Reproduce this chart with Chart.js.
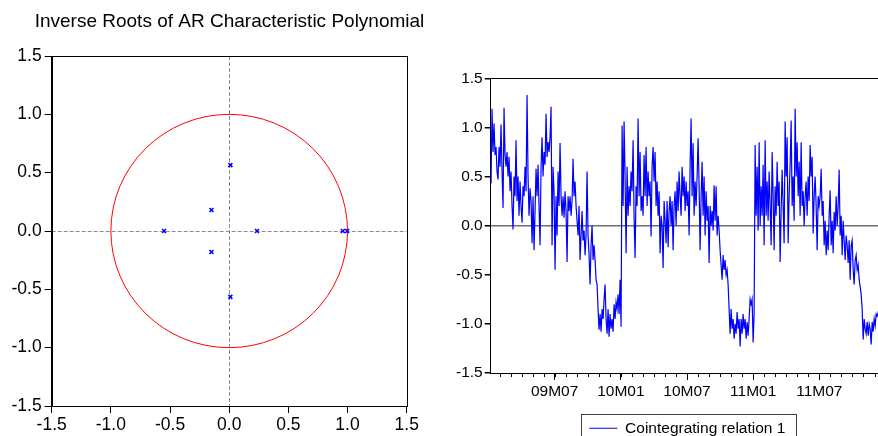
<!DOCTYPE html>
<html>
<head>
<meta charset="utf-8">
<script src="https://cdn.jsdelivr.net/npm/chart.js@4.4.1/dist/chart.umd.min.js"></script>
<style>
  html, body { margin: 0; padding: 0; background: #fff; overflow: hidden; }
  #wrap { position: relative; width: 878px; height: 436px; overflow: hidden; }
  #roots { position: absolute; left: 0; top: 0; }
  #coint { position: absolute; left: 440px; top: 0; }
</style>
</head>
<body>
<div id="wrap">
  <canvas id="roots" width="459" height="450"></canvas>
  <canvas id="coint" width="446" height="446"></canvas>
</div>
<script>
// inverse roots (real / imaginary parts)
const rootRe = [0.01, -0.15, -0.55, 0.235, 0.96, 0.997, -0.15, 0.01];
const rootIm = [0.565, 0.18, 0, 0, 0, 0, -0.18, -0.565];
const rootTicks = [-1.5, -1.0, -0.5, 0.0, 0.5, 1.0, 1.5];

// cointegrating relation, observations spaced evenly, x in months since 2009M01
const obsStart = 0.23;
const obsStep = 0.0907;
const cointValues = [
  0.43, 1.19, 0.75, 1.04, 0.72, 0.8, 0.55, 0.47, 0.8, 0.6,
  1.03, 0.55, 0.18, 1.2, 0.72, 0.6, 0.75, 0.5, 0.7, 0.35,
  0.55, 0.2, -0.04, 0.5, 0.3, 0.87, 0.25, 0.5, 0.1, 0.45,
  0.2, 0.03, 0.4, 0.3, 0.6, 0.35, 1.33, 0.5, 0.1, 0.38,
  0.25, -0.18, 0.3, -0.25, 0.15, 0.58, 0.3, 0.62, 0.2, -0.2,
  0.6, 0.9, 0.5, 0.75, 0.62, 1.14, 0.7, 0.85, 0.75, 0.9,
  1.21, -0.2, 0.6, 0.35, -0.45, 0.3,
  -0.1, 0.55, 0.2, 0.84, 0.3, 0.1, 0.3, 0.08, 0.35, 0.15,
  -0.37, 0.3, 0.15, 0.3, 0.1, 0.25, 0.68, 0.3, 0.45, 0.2,
  0.05, -0.1, 0.2, -0.35, -0.1, 0.15, -0.15, -0.05, -0.3, -0.1,
  0.55, -0.1, -0.3, -0.6, -0.2, 0.0, -0.35, -0.2, -0.35, -0.55,
  -0.6, -0.85, -1.06, -0.9, -1.08, -0.85, -0.95, -0.75, -0.6, -0.95,
  -1.1, -0.85, -1.13, -0.9, -1.05, -0.95, -1.08, -0.8, -0.95, -0.78,
  -0.85, -0.7, -0.9, -0.55, -1.03,
  1.02, 0.2, 1.06, 0.5, -0.28, 0.6, 0.1, 0.4, 0.2, 0.55,
  0.35, 0.87, 0.1, -0.33, 0.4, 0.2, 1.09, 0.3, 0.75, 0.15,
  0.3, 0.1, 0.72, 0.3, 0.8, 0.2, 0.55, 0.3, 0.45, -0.11,
  0.6, 0.8, 0.45, 0.75, 0.2, 0.45, 0.1, 0.35, -0.28, 0.1,
  0.0, -0.43, 0.25, 0.05, -0.18, 0.25, -0.22, 0.15, 0.3, 0.0,
  0.25, -0.25, 0.2, 0.35, 0.0, 0.45, 0.15, 0.55, 0.3, 0.1,
  0.6, 0.3, 0.5, 0.15, 0.45, 0.2,
  0.35, -0.1, 0.6, 1.09, 0.3, 0.84, 0.1, 0.45, 0.2, 0.5,
  0.89, 0.4, -0.25, 0.3, 0.65, 0.1, 0.5, -0.1, 0.35, 0.05,
  0.2, -0.38, 0.2, 0.0, 0.15, -0.05, 0.41, 0.05, 0.4, -0.1,
  0.1, -0.05, -0.25, -0.4, -0.55, -0.3, -0.45, -0.35, -0.5, -0.45,
  -0.6, -0.85, -1.1, -0.85, -1.05, -0.95, -1.15, -1.0, -1.1, -0.88,
  -1.05, -0.95, -1.23, -0.95, -1.1, -0.9, -1.05, -0.95, -1.15, -0.98,
  -1.12, -0.95, -0.75, -0.8, -0.75, -1.19,
  -0.9, 0.82, 0.1, 0.6, -0.05, 0.85, 0.0, 0.4, 0.1, 0.62,
  -0.2, 0.87, 0.1, 0.45, 0.05, 0.55, 0.2, -0.2, 0.75, 0.3,
  -0.25, 0.4, 0.1, 0.65, 0.2, 0.45, -0.37, 0.15, 0.57, 0.2,
  -0.18, 1.06, 0.5, 0.9, -0.18, 0.3, 0.62, 1.07, 0.2, 0.5,
  0.05, 1.19, 0.5, 0.85, 0.3, 0.65, 0.1, 0.85, 0.2, 0.35,
  0.0, 0.3, 0.45, 0.1, 0.5, 0.25, 0.82, 0.5, 0.7, -0.08,
  0.3, 0.5, 0.2, -0.25, 0.3, 0.2,
  0.3, 0.58, 0.1, 0.25, -0.2, 0.05, -0.3, -0.05, -0.25, 0.1,
  0.36, -0.2, 0.05, -0.28, 0.14, -0.05, 0.3, 0.0, 0.2, 0.57,
  -0.1, 0.1, -0.3, 0.05, -0.15, -0.35, -0.1, -0.2, -0.38, -0.15,
  -0.55, -0.2, -0.15, -0.45, -0.6, -0.35, -0.3, -0.45, -0.4, -0.55,
  -0.62, -0.7, -0.85, -1.16, -0.95, -1.05, -1.1, -0.98, -1.12, -1.0,
  -1.05, -1.21, -0.98, -1.08, -0.95, -1.02, -0.9, -0.92, -0.88, -0.9
];
const cointTicks = [-1.5, -1.0, -0.5, 0.0, 0.5, 1.0, 1.5];
const monthTicks = [6, 12, 18, 24, 30];
const monthLabels = ['09M07', '10M01', '10M07', '11M01', '11M07'];
const minorMonths = [1, 2, 3, 4, 5, 6, 7, 8, 9, 10, 11, 12, 13, 14, 15, 16, 17, 18,
  19, 20, 21, 22, 23, 24, 25, 26, 27, 28, 29, 30, 31, 32, 33, 34, 35];

const FONT = '"Liberation Sans", Arial, Helvetica, sans-serif';

// unit circle, zero lines and frame on the roots plot
const rootsDecor = {
  id: 'rootsDecor',
  beforeDatasetsDraw(chart) {
    const {ctx, chartArea: a, scales: {x, y}} = chart;
    const cx = x.getPixelForValue(0), cy = y.getPixelForValue(0);
    ctx.save();
    ctx.strokeStyle = '#8c8c8c';
    ctx.lineWidth = 1;
    ctx.setLineDash([4, 2]);
    ctx.beginPath();
    ctx.moveTo(a.left, Math.round(cy) + 0.5);
    ctx.lineTo(a.right, Math.round(cy) + 0.5);
    ctx.moveTo(Math.round(cx) + 0.5, a.top);
    ctx.lineTo(Math.round(cx) + 0.5, a.bottom);
    ctx.stroke();
    ctx.setLineDash([]);
    ctx.strokeStyle = '#ff0000';
    ctx.beginPath();
    ctx.ellipse(cx, cy, x.getPixelForValue(1) - cx, cy - y.getPixelForValue(1), 0, 0, Math.PI * 2);
    ctx.stroke();
    ctx.restore();
  },
  afterDraw(chart) {
    const {ctx, chartArea: a} = chart;
    ctx.save();
    ctx.strokeStyle = '#000';
    ctx.lineWidth = 1;
    ctx.strokeRect(Math.round(a.left) + 0.5, Math.round(a.top) + 0.5,
      Math.round(a.right - a.left), Math.round(a.bottom - a.top));
    ctx.restore();
  }
};

new Chart(document.getElementById('roots'), {
  type: 'scatter',
  data: {
    datasets: [{
      data: rootRe.map((r, i) => ({x: r, y: rootIm[i]})),
      pointStyle: 'crossRot',
      pointRadius: 2.8,
      borderWidth: 1.6,
      borderColor: '#0000ff',
      backgroundColor: '#0000ff'
    }]
  },
  options: {
    responsive: false,
    animation: false,
    layout: {padding: 0},
    plugins: {
      legend: {display: false},
      tooltip: {enabled: false},
      title: {
        display: true,
        text: 'Inverse Roots of AR Characteristic Polynomial',
        color: '#000',
        font: {family: FONT, size: 19, weight: 'normal'},
        padding: {top: 10.6, bottom: 22.6}
      }
    },
    scales: {
      x: {
        type: 'linear', min: -1.5, max: 1.5,
        afterBuildTicks: s => { s.ticks = rootTicks.map(v => ({value: v})); },
        afterFit: s => { s.height = 44; },
        ticks: {callback: v => v.toFixed(1), color: '#000', font: {family: FONT, size: 17.5}, padding: 2, maxRotation: 0, autoSkip: false},
        grid: {drawOnChartArea: false, tickLength: 7, tickColor: '#000'},
        border: {color: '#000'}
      },
      y: {
        type: 'linear', min: -1.5, max: 1.5,
        afterBuildTicks: s => { s.ticks = rootTicks.map(v => ({value: v})); },
        afterFit: s => { s.width = 51.7; },
        ticks: {callback: v => v.toFixed(1), color: '#000', font: {family: FONT, size: 17.5}, padding: 3, autoSkip: false},
        grid: {drawOnChartArea: false, tickLength: 7, tickColor: '#000'},
        border: {color: '#000'}
      },
      // empty right-hand box so the plot ends at the same place while the title keeps its full width
      y2: {
        type: 'linear', position: 'right', display: true, min: -1.5, max: 1.5,
        afterFit: s => { s.width = 52.3; },
        ticks: {display: false},
        grid: {display: false, drawTicks: false},
        border: {display: false}
      }
    }
  },
  plugins: [rootsDecor]
});

// top/right frame, monthly minor ticks and legend box on the relation plot
const cointDecor = {
  id: 'cointDecor',
  afterDraw(chart) {
    const {ctx, chartArea: a, scales: {x}} = chart;
    ctx.save();
    ctx.strokeStyle = '#000';
    ctx.lineWidth = 1;
    ctx.beginPath();
    ctx.moveTo(a.left, Math.round(a.top) + 0.5);
    ctx.lineTo(a.right, Math.round(a.top) + 0.5);
    ctx.moveTo(Math.round(a.right) + 0.5, a.top);
    ctx.lineTo(Math.round(a.right) + 0.5, a.bottom);
    minorMonths.forEach(m => {
      const px = Math.round(x.getPixelForValue(m)) + 0.5;
      ctx.moveTo(px, a.bottom);
      ctx.lineTo(px, a.bottom + 4);
    });
    ctx.stroke();
    const hb = chart.legend.legendHitBoxes[0];
    if (hb) {
      ctx.strokeStyle = '#404040';
      ctx.strokeRect(Math.round(hb.left - 8) + 0.5, Math.round(hb.top - 7) + 0.5,
        Math.round(hb.width + 19), Math.round(hb.height + 14));
    }
    ctx.restore();
  }
};

new Chart(document.getElementById('coint'), {
  type: 'line',
  data: {
    datasets: [{
      label: 'Cointegrating relation 1',
      data: cointValues.map((v, i) => ({x: obsStart + i * obsStep, y: v})),
      borderColor: '#0000ff',
      backgroundColor: '#0000ff',
      borderWidth: 1.2,
      pointRadius: 0,
      tension: 0
    }]
  },
  options: {
    responsive: false,
    animation: false,
    layout: {padding: {left: 0, right: 2, top: 78.3, bottom: 0}},
    plugins: {
      tooltip: {enabled: false},
      legend: {
        position: 'bottom',
        fullSize: false,
        labels: {
          usePointStyle: true,
          pointStyle: 'line',
          pointStyleWidth: 28,
          padding: 10,
          color: '#000',
          font: {family: FONT, size: 15.5}
        }
      }
    },
    scales: {
      x: {
        type: 'linear', min: 0.2, max: 35.86,
        afterBuildTicks: s => { s.ticks = monthTicks.map(v => ({value: v})); },
        afterFit: s => { s.height = 37.5; },
        ticks: {
          callback: v => monthLabels[monthTicks.indexOf(v)],
          color: '#000', font: {family: FONT, size: 15.5}, padding: 2, maxRotation: 0, autoSkip: false
        },
        grid: {drawOnChartArea: false, tickLength: 7, tickColor: '#000'},
        border: {color: '#000'}
      },
      y: {
        type: 'linear', min: -1.5, max: 1.5,
        afterBuildTicks: s => { s.ticks = cointTicks.map(v => ({value: v})); },
        afterFit: s => { s.width = 50.7; },
        ticks: {callback: v => v.toFixed(1), color: '#000', font: {family: FONT, size: 15.5}, padding: 2, autoSkip: false},
        grid: {
          color: c => (c.tick && c.tick.value === 0 ? '#707070' : 'rgba(0,0,0,0)'),
          lineWidth: 1.5,
          tickLength: 6,
          tickColor: '#000'
        },
        border: {color: '#000'}
      }
    }
  },
  plugins: [cointDecor]
});
</script>
</body>
</html>
